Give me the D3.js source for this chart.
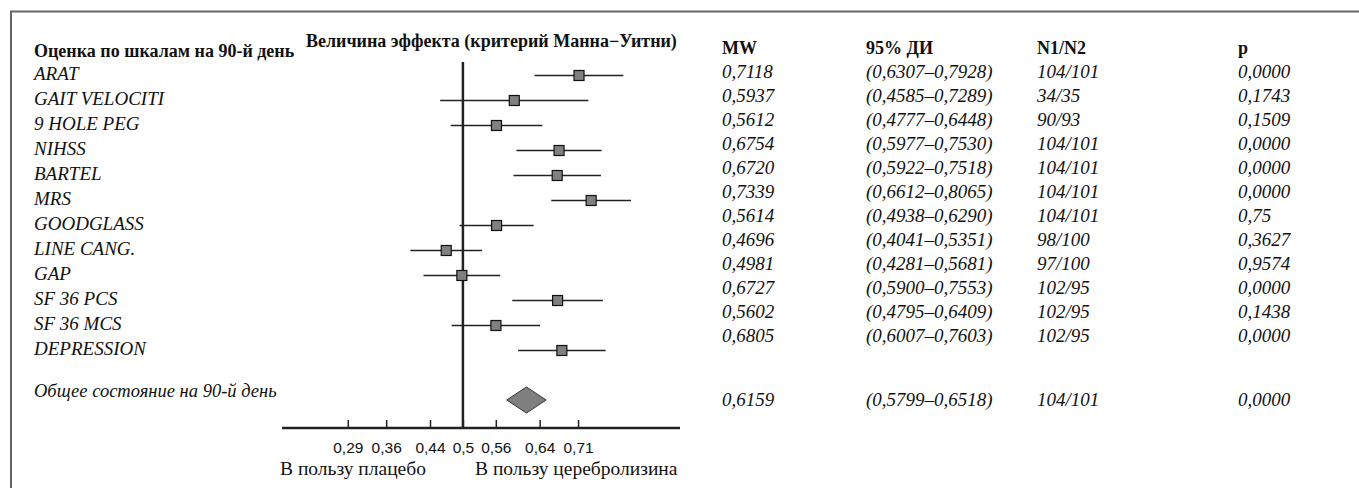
<!DOCTYPE html>
<html>
<head>
<meta charset="utf-8">
<script src="https://d3js.org/d3.v7.min.js"></script>
<style>
    body { margin: 0; background: #fff; }
    svg { font-family: "Liberation Serif", "DejaVu Serif", serif; }
    .lbl { font-style: italic; font-size: 19px; fill: #111; }
    .hdr { font-weight: bold; font-size: 18px; fill: #111; }
    .tick text { font-size: 15.5px; fill: #111; }
    .foot { font-size: 19.5px; fill: #111; }
</style>
</head>
<body>
<script>
// scales (rows)
var scaleNames = ["ARAT", "GAIT VELOCITI", "9 HOLE PEG", "NIHSS", "BARTEL", "MRS",
    "GOODGLASS", "LINE CANG.", "GAP", "SF 36 PCS", "SF 36 MCS", "DEPRESSION"];
var mwValues = [0.7118, 0.5937, 0.5612, 0.6754, 0.6720, 0.7339, 0.5614, 0.4696, 0.4981, 0.6727, 0.5602, 0.6805];
var ciLow = [0.6307, 0.4585, 0.4777, 0.5977, 0.5922, 0.6612, 0.4938, 0.4041, 0.4281, 0.5900, 0.4795, 0.6007];
var ciHigh = [0.7928, 0.7289, 0.6448, 0.7530, 0.7518, 0.8065, 0.6290, 0.5351, 0.5681, 0.7553, 0.6409, 0.7603];
var nGroups = ["104/101", "34/35", "90/93", "104/101", "104/101", "104/101", "104/101", "98/100", "97/100", "102/95", "102/95", "102/95"];
var pValues = ["0,0000", "0,1743", "0,1509", "0,0000", "0,0000", "0,0000", "0,75", "0,3627", "0,9574", "0,0000", "0,1438", "0,0000"];

// overall
var overallLabel = "Общее состояние на 90-й день";
var overallMw = 0.6159, overallLow = 0.5799, overallHigh = 0.6518;
var overallN = "104/101", overallP = "0,0000";

var tickValues = [0.29, 0.36, 0.44, 0.5, 0.56, 0.64, 0.71];
var headers = ["MW", "95% ДИ", "N1/N2", "p"];

var W = 1359, H = 488;
var svg = d3.select("body").append("svg").attr("width", W).attr("height", H);

var comma = function (v, n) { return v.toFixed(n).replace(".", ","); };

var x = d3.scaleLinear().domain([0.17, 0.896]).range([282, 680]);
var y = d3.scaleLinear().domain([0, scaleNames.length - 1]).range([75.5, 350.5]);
var ty = d3.scaleLinear().domain([0, scaleNames.length - 1]).range([78, 342]);
var overallY = 400, axisY = 428;

// frame
svg.append("path")
    .attr("d", "M11," + H + "L11,11.5L" + W + ",11.5")
    .attr("fill", "none").attr("stroke", "#666").attr("stroke-width", 2);

// titles
svg.append("text").attr("class", "hdr").attr("x", 34).attr("y", 57).text("Оценка по шкалам на 90-й день");
svg.append("text").attr("class", "hdr").attr("x", 306).attr("y", 47).text("Величина эффекта (критерий Манна−Уитни)");

// left labels
svg.selectAll(".name").data(scaleNames).enter().append("text")
    .attr("class", "lbl name").attr("x", 34)
    .attr("y", function (d, i) { return y(i) + 4; })
    .text(function (d) { return d; });
svg.append("text").attr("class", "lbl").attr("x", 34).attr("y", overallY - 3)
    .style("font-size", "18.5px").text(overallLabel);

// axis
var axis = d3.axisBottom(x).tickValues(tickValues).tickSizeInner(-8).tickSizeOuter(0).tickPadding(14)
    .tickFormat(function (d) { return String(d).replace(".", ","); });
var ax = svg.append("g").attr("transform", "translate(0," + axisY + ")").call(axis);
ax.select(".domain").remove();
ax.selectAll(".tick line").attr("stroke", "#222").attr("stroke-width", 1.5);
ax.selectAll(".tick text").attr("font-family", null).attr("font-size", null);
svg.append("line").attr("x1", 282).attr("x2", 680).attr("y1", axisY).attr("y2", axisY)
    .attr("stroke", "#222").attr("stroke-width", 2.5);

// null line
svg.append("line").attr("x1", x(0.5)).attr("x2", x(0.5)).attr("y1", 62).attr("y2", axisY)
    .attr("stroke", "#222").attr("stroke-width", 2.5);

// CI lines and squares
var rows = svg.selectAll(".row").data(mwValues).enter().append("g").attr("class", "row");
rows.append("line")
    .attr("x1", function (d, i) { return x(ciLow[i]); })
    .attr("x2", function (d, i) { return x(ciHigh[i]); })
    .attr("y1", function (d, i) { return y(i); })
    .attr("y2", function (d, i) { return y(i); })
    .attr("stroke", "#222").attr("stroke-width", 1.3);
rows.append("rect")
    .attr("x", function (d) { return x(d) - 5; })
    .attr("y", function (d, i) { return y(i) - 5; })
    .attr("width", 10).attr("height", 10)
    .attr("fill", "#808080").attr("stroke", "#111").attr("stroke-width", 1.2);

// overall diamond
svg.append("path")
    .attr("d", "M" + x(overallLow) + "," + overallY + "L" + x(overallMw) + "," + (overallY - 13)
        + "L" + x(overallHigh) + "," + overallY + "L" + x(overallMw) + "," + (overallY + 13) + "Z")
    .attr("fill", "#7f7f7f").attr("stroke", "#333").attr("stroke-width", 1);

// bottom labels
svg.append("text").attr("class", "foot").attr("x", 280).attr("y", 475).text("В пользу плацебо");
svg.append("text").attr("class", "foot").attr("x", 475).attr("y", 475).text("В пользу церебролизина");

// table
var colX = [722, 866, 1037, 1238];
svg.selectAll(".th").data(headers).enter().append("text")
    .attr("class", "hdr th").attr("x", function (d, i) { return colX[i]; }).attr("y", 54)
    .text(function (d) { return d; });

var cells = function (vals, col) {
    svg.selectAll(".c" + col).data(vals).enter().append("text")
        .attr("class", "lbl c" + col).attr("x", colX[col])
        .attr("y", function (d, i) { return ty(i); })
        .text(function (d) { return d; });
};
cells(mwValues.map(function (d) { return comma(d, 4); }), 0);
cells(ciLow.map(function (d, i) { return "(" + comma(d, 4) + "–" + comma(ciHigh[i], 4) + ")"; }), 1);
cells(nGroups, 2);
cells(pValues, 3);

var overallRow = [comma(overallMw, 4), "(" + comma(overallLow, 4) + "–" + comma(overallHigh, 4) + ")", overallN, overallP];
overallRow.forEach(function (t, i) {
    svg.append("text").attr("class", "lbl").attr("x", colX[i]).attr("y", overallY + 6).text(t);
});
</script>
</body>
</html>
